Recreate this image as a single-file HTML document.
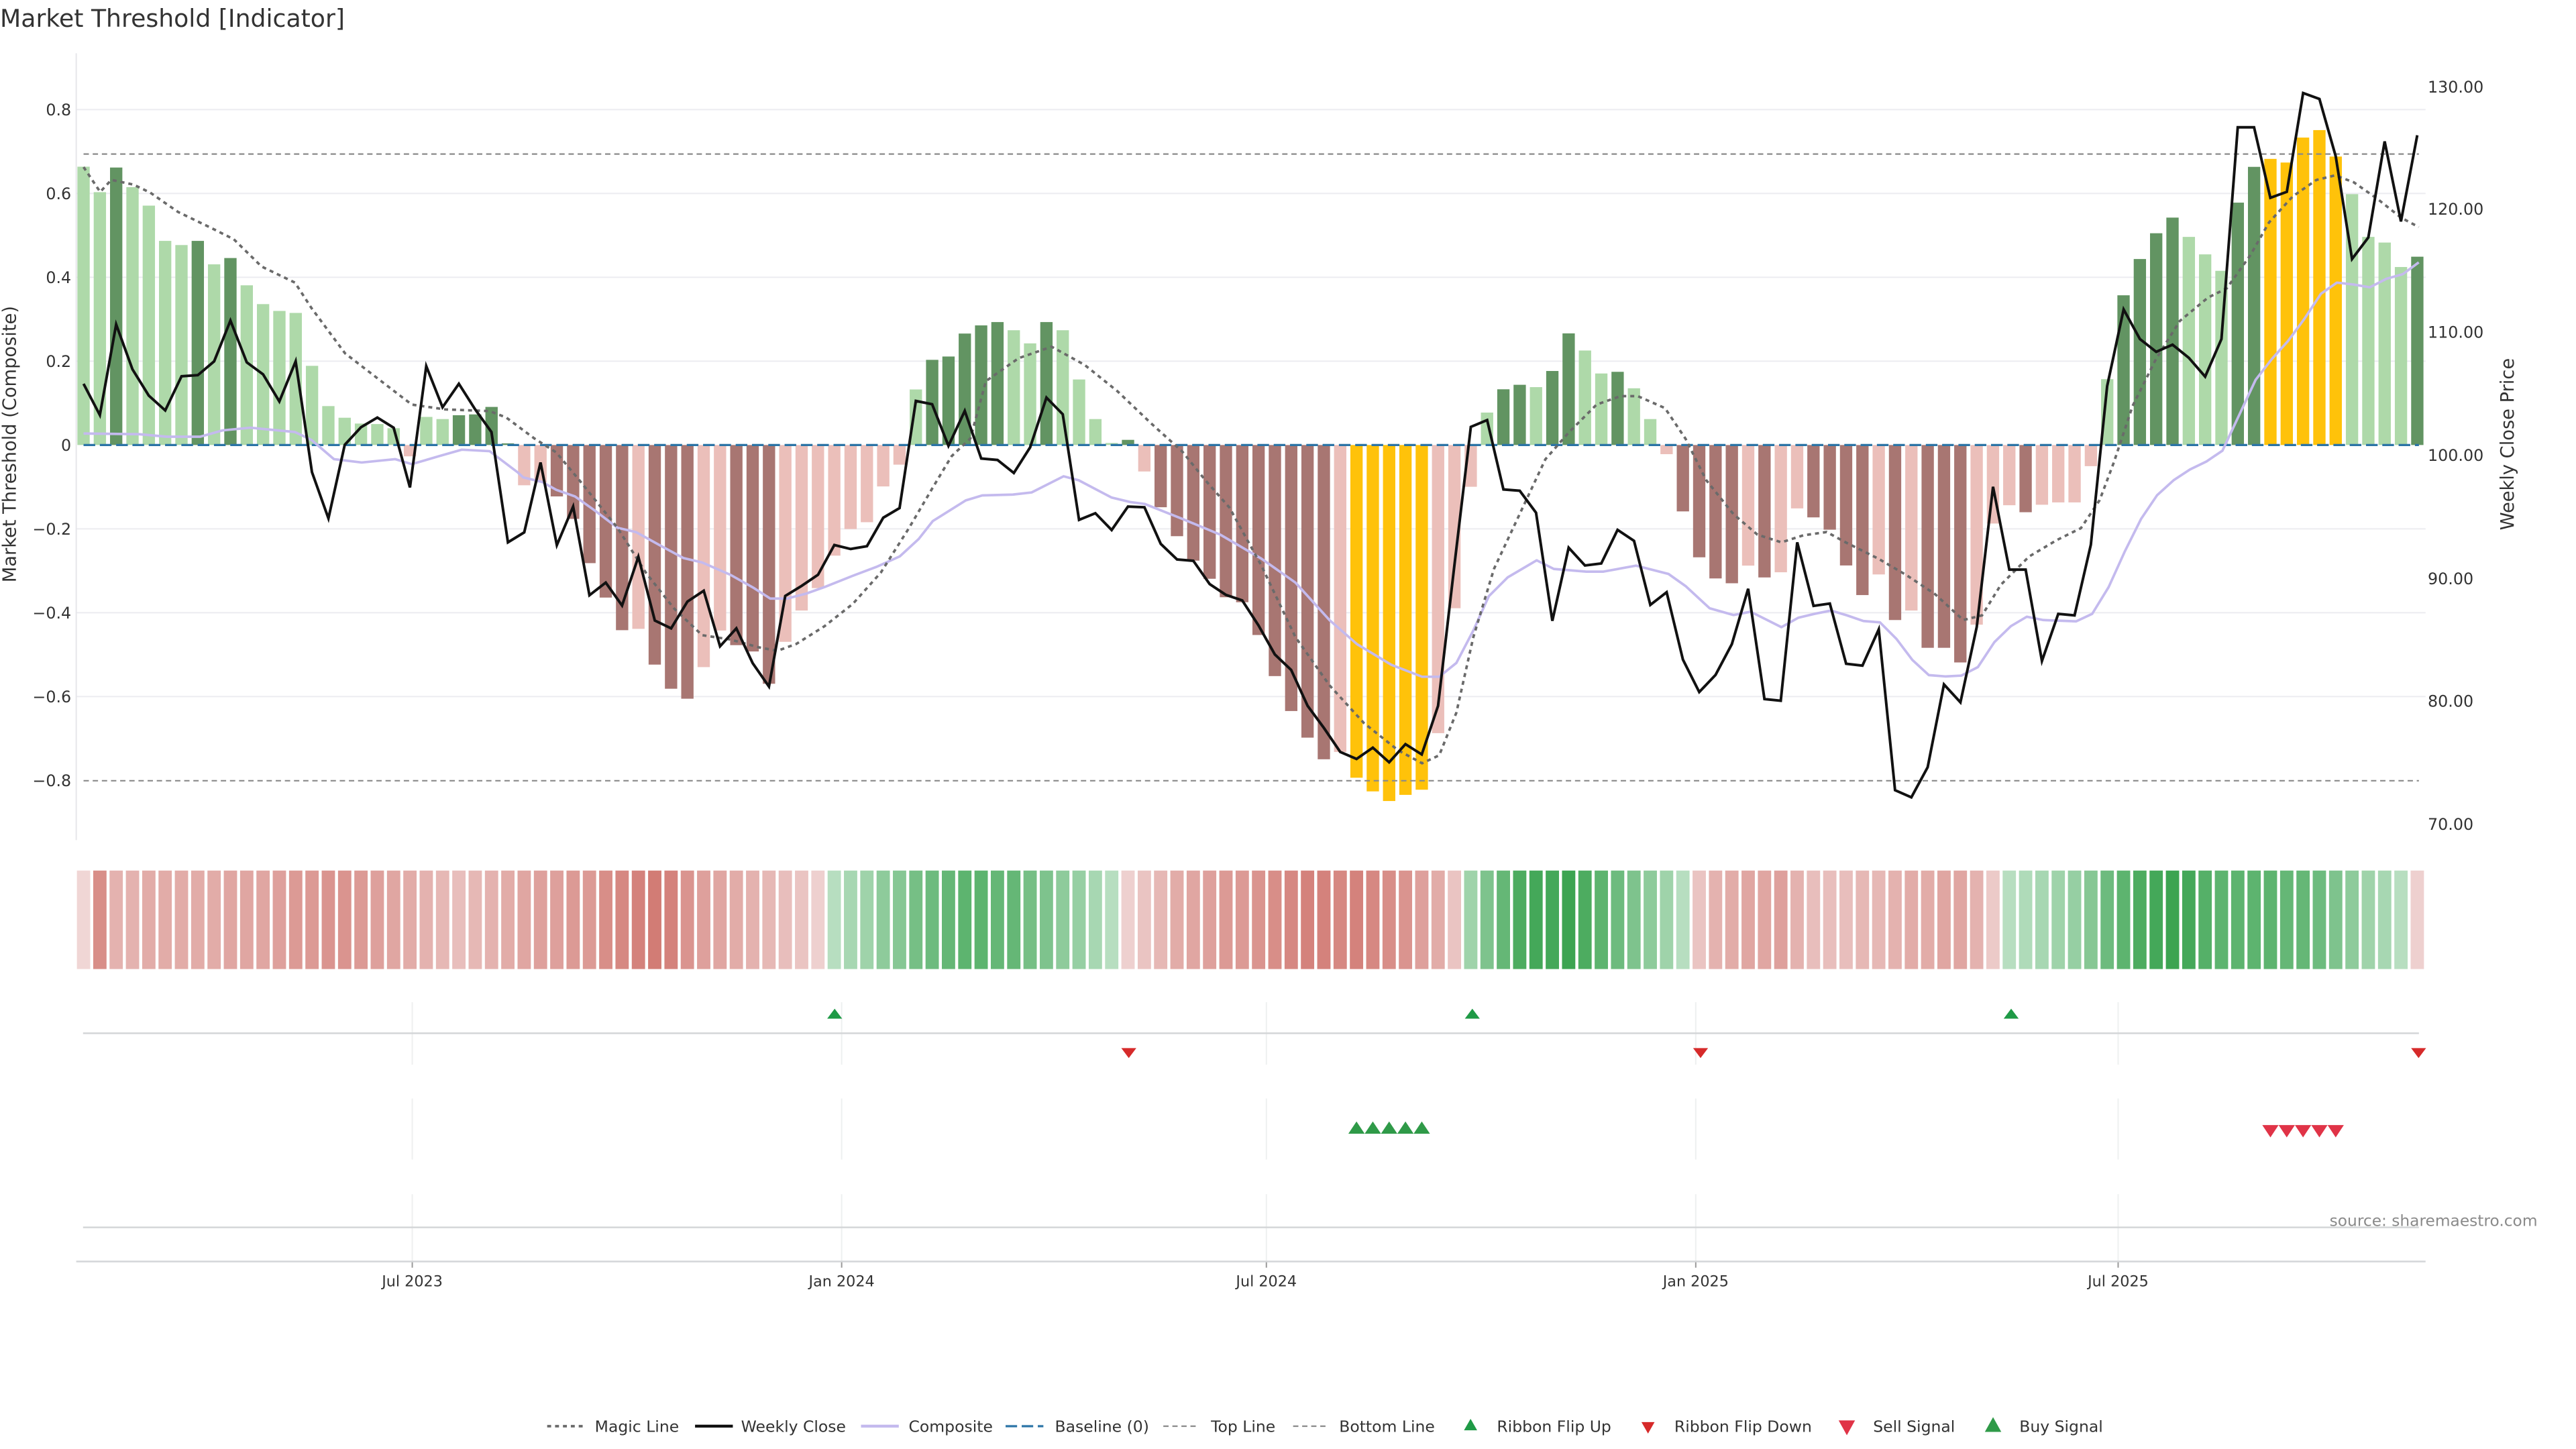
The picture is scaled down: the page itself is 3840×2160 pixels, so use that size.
<!DOCTYPE html>
<html><head><meta charset="utf-8"><style>
html,body{margin:0;padding:0;background:#fff;}
svg{display:block;font-family:"DejaVu Sans","Liberation Sans",sans-serif;}
</style></head><body>
<svg id="s" xmlns="http://www.w3.org/2000/svg" width="3840" height="2160" viewBox="0 0 1548.4 871">
<rect x="0" y="0" width="1548.4" height="871" fill="#fff"/>
<text x="0" y="16.2" font-size="14.6" fill="#333">Market Threshold [Indicator]</text>
<g id="grid"></g>
<g id="bars"></g>
<g id="lines"></g>
<g id="lower"></g>
<text x="1400.3" y="737" font-size="9.4" fill="#8a8a8a">source: sharemaestro.com</text>
<text transform="translate(9.5,267) rotate(-90)" text-anchor="middle" font-size="11" fill="#333">Market Threshold (Composite)</text>
<text transform="translate(1511,267) rotate(-90)" text-anchor="middle" font-size="11" fill="#333">Weekly Close Price</text>
<g id="legend" font-size="9.6" fill="#333"></g>
</svg>
<script>
const NS="http://www.w3.org/2000/svg";
function el(parent,tag,attrs,text){const e=document.createElementNS(NS,tag);for(const k in attrs)e.setAttribute(k,attrs[k]);if(text!==undefined)e.textContent=text;document.getElementById(parent).appendChild(e);return e;}
const X=i=>50.2+i*9.81;
const Z=267.5, U=252;
for(const v of [0.8,0.6,0.4,0.2,-0.2,-0.4,-0.6]){const y=Z-v*U;el('grid','line',{x1:46,x2:1458,y1:y,y2:y,stroke:'#ececf0','stroke-width':0.8});}
el('grid','line',{x1:45.8,x2:45.8,y1:32,y2:505,stroke:'#e6e6ea','stroke-width':0.8});
for(const v of [0.8,0.6,0.4,0.2,0,-0.2,-0.4,-0.6,-0.8]){const y=Z-v*U;el('grid','text',{x:42.8,y:y+3.4,'text-anchor':'end','font-size':9.6,fill:'#333'},v===0?'0':v.toFixed(1).replace('-','\u2212'));}
const rl=[[130,52.2],[120,125.7],[110,199.6],[100,273.7],[90,347.8],[80,421.4],[70,495.4]];
for(const [p,y] of rl)el('grid','text',{x:1459.3,y:y+3.4,'font-size':9.6,fill:'#333'},p.toFixed(2));
const B="g100.2 g115.5 G100.7 g112.5 g123.6 g144.8 g147.3 G144.8 g158.9 G155.1 g171.5 g182.8 g186.9 g188.1 g219.9 g244.1 g251.1 g254.6 g254.9 g257.4 r274.3 g250.6 g251.9 G249.6 G249.1 G244.6 G266.5 r291.7 r290 R298.4 R311.9 R338.5 R359.2 R378.8 r378 R399.5 R414 R420 r401 r379 R387.8 R391.6 R411 r385.8 r367 r353.5 r334 r318 r313.9 r292.4 r279.3 g234.1 G216.3 G214.3 G200.5 G195.6 G193.6 g198.5 g206.4 G193.6 g198.5 g228.1 g251.9 g266.3 G264.4 r283.4 R304.9 R322.3 R337 R347.9 R359 R362 R381.7 R406.4 R427.4 R443.4 R456.4 r452 Y467.5 Y475.7 Y481.5 Y477.8 Y474.7 r440.7 r365.6 r292.6 g248 G234 G231.3 g232.7 G223 G200.4 g210.7 g224.5 G223.5 g233.4 g251.9 r273 R307.4 R335 R347.7 R350.6 r340 R347.1 r344 r305.6 R311 R318.4 R339.9 R357.7 r345.3 R372.7 r367 R389.4 R389.4 R398.2 r375.5 r314.7 r303.7 R307.9 r303.4 r302 r302 r280.2 g227.9 G177.5 G155.7 G140.2 G130.8 g142.4 g152.9 g162.8 G121.8 G100.3 Y95.5 Y97.7 Y82.7 Y78.2 Y94.1 g116.7 g142.4 g145.8 g160.5 G154.3".split(' ');
const C={g:'#aed9a9',G:'#629462',r:'#ebbfba',R:'#a87672',Y:'#ffc20a'};
B.forEach((s,i)=>{const c=C[s[0]],y=parseFloat(s.slice(1));const t=Math.min(y,Z),h=Math.abs(Z-y);el('bars','rect',{x:X(i)-3.7,y:t,width:7.4,height:Math.max(h,0.6),fill:c});});
el('lines','line',{x1:50.2,x2:1454,y1:92.6,y2:92.6,stroke:'#8a8a8a','stroke-width':0.9,'stroke-dasharray':'3.2 2.3'});
el('lines','line',{x1:50.2,x2:1454,y1:469.3,y2:469.3,stroke:'#8a8a8a','stroke-width':0.9,'stroke-dasharray':'3.2 2.3'});
el('lines','line',{x1:50.2,x2:1454,y1:Z,y2:Z,stroke:'#2b74a6','stroke-width':1.3,'stroke-dasharray':'7 2.8'});
const comp=[[50.2,260.6],[83.6,261],[100.3,262.5],[120.4,262.5],[133.8,258.7],[150.5,257.1],[177.3,259.7],[187.3,264.5],[200.7,276],[217.4,278],[237.5,276],[247.5,279],[264.2,274.1],[277.6,270.3],[294.3,271.2],[311,283.8],[314.5,287],[325.8,289.7],[334.3,294.4],[345.6,298.4],[357,306.5],[371.1,317.2],[382.4,319.9],[399.4,329.3],[410.7,335.4],[422,338.1],[439,345.5],[453.2,353.5],[463,359.8],[473,359.8],[484.3,356.9],[495.6,352.9],[512.6,346.1],[526.7,340.8],[540.9,334.4],[552.2,324],[560.7,313.2],[580.5,300.8],[590.4,297.8],[608.8,297.3],[620.1,296],[639.3,286.3],[648.4,288.7],[668.2,299.1],[679.5,301.8],[688,302.9],[710.7,311.9],[733.3,321.3],[758.2,335.8],[778.7,350.2],[799.2,372.8],[815.7,387.2],[836.3,399.6],[854.8,406.8],[865.1,406.8],[875.4,398.5],[885.6,379],[894.9,358.4],[906.2,347.1],[923.7,336.8],[934,342],[953.5,343.6],[963.8,343.6],[983.4,340],[1002.9,345],[1013.2,352.3],[1027.6,365.6],[1042,369.7],[1052.3,367.7],[1070.8,377],[1081,371.3],[1090.7,369],[1100.6,367],[1110.2,369.9],[1120.1,373.3],[1130,374.1],[1139.9,384],[1149.5,396.7],[1159.4,405.8],[1169.3,406.6],[1179,406.1],[1188.9,401],[1198.8,386],[1208.7,376.4],[1218.3,370.7],[1228.2,372.7],[1248,373.5],[1257.6,369],[1267.5,352.9],[1277.1,331.7],[1287,311.9],[1296.6,297.7],[1306.5,288.7],[1316.4,282.2],[1326.3,277.4],[1335.9,270.9],[1345.9,249.6],[1355.8,228.4],[1365.7,215.7],[1375.3,205],[1385.2,191.6],[1395.1,176.6],[1404.7,169.9],[1414.6,171],[1424.5,172.7],[1434.4,167.6],[1444.3,164.8],[1453.9,157.7]];
el('lines','polyline',{points:comp.map(p=>p.join(',')).join(' '),fill:'none',stroke:'#c4baee','stroke-width':1.5,'stroke-linejoin':'round'});
const mag=[[50.2,100.4],[60.2,115.4],[66.9,108.1],[80.3,111],[90.3,115.8],[107,127.4],[127.1,137.1],[140.5,143.8],[157.2,160.2],[177.3,169.9],[187.3,185.3],[207.4,212.4],[227.4,227.8],[247.5,243.2],[267.6,246.1],[294.3,247.1],[304.3,251],[321.1,263.5],[334.4,272],[348.5,289],[371.1,317.2],[388.1,344.1],[405,365.6],[422,381.8],[439,384.4],[456,389.1],[467.3,391.2],[478.6,387.1],[495.6,376.4],[512.6,363],[529.5,344.1],[546.5,317.2],[560.7,293],[572,274.2],[583.3,263.5],[592.6,229.1],[612.3,215.3],[632.1,208.4],[651.9,219.3],[671.6,235.1],[691.4,254],[710.7,271.5],[724.8,289],[739,305.1],[758.2,340],[778.7,383],[799.2,412],[819.8,434.6],[840.4,451],[854.8,458.8],[865.1,454],[875.4,428.4],[885.6,383],[898,342],[914.4,307],[928.9,276.1],[943.2,259.7],[959.7,243.2],[974.1,238.1],[984.4,238.1],[1000.8,245.3],[1013.2,263.8],[1025.5,288.5],[1042,309.1],[1056.4,321.4],[1070.8,326],[1083.9,321.8],[1098,319.8],[1109.4,326],[1129.2,335.9],[1146.1,345.8],[1163.1,357.1],[1180.1,372.7],[1191.4,369.9],[1202.7,351.5],[1219.7,334.5],[1236.4,324.6],[1250.8,317.5],[1262.1,300.6],[1270.6,278],[1281.9,244],[1296,215.7],[1310.2,193],[1327.2,178.9],[1338.5,173.3],[1352.6,153.5],[1363.9,133.7],[1378.1,118.1],[1392.3,108.2],[1403.6,105.4],[1414.9,109.6],[1429,119.5],[1443.2,130.8],[1453.9,136.5]];
el('lines','polyline',{points:mag.map(p=>p.join(',')).join(' '),fill:'none',stroke:'#6a6a6a','stroke-width':1.5,'stroke-dasharray':'2.4 2.4'});
const wc=[230.7,249.5,195.0,222.0,237.8,246.7,226.2,225.5,217.2,192.7,217.8,225.0,241.3,217.2,283.8,311.6,267.4,256.8,251.0,257.1,293.0,220.1,244.8,230.7,246.1,259.7,326,320,278,327.7,304.5,357.8,350.2,364,334.7,373,377.7,361.6,355.1,388.5,377.7,398.6,412.7,358.2,352.2,345.5,327.6,330,328.3,311.2,305.4,241,243,268,247,275.6,276.5,284.3,268.9,239,249,312.5,308.5,318.6,304.5,304.9,326.9,336.3,337.1,351.1,357.6,360.9,376,393.4,402.7,424.3,437.6,452,456.2,449.4,458.2,447.3,453.5,424.3,340,256.6,252.5,294.2,295,308.2,373.2,329.2,339.9,338.7,318.5,325.1,363.6,356,396.5,416,405.7,387.2,353.9,420.2,421.2,326,364.2,362.8,399,400.1,378.3,475,479.3,461.2,411.4,422.2,376.9,292.6,342.4,342.4,397.3,369,369.9,327.4,232.1,186,203.8,211.5,207.2,215.1,226.4,203.8,76.5,76.5,118.9,115.3,55.9,59.5,94,155.7,142.7,85,133.1,81.3];
el('lines','polyline',{points:wc.map((y,i)=>X(i).toFixed(1)+','+y).join(' '),fill:'none',stroke:'#111','stroke-width':1.6,'stroke-linejoin':'miter'});
const hs=[];
const red0=[0.1,0.7,0.4,0.4,0.45,0.45,0.45,0.45,0.45,0.5,0.5,0.5,0.55,0.6,0.6,0.65,0.65,0.6,0.55,0.5,0.45,0.4,0.35,0.3,0.35,0.4,0.45,0.5,0.55,0.55,0.6,0.6,0.7,0.75,0.8,0.85,0.8,0.65,0.55,0.5,0.45,0.4,0.35,0.3,0.25,0.15];
red0.forEach(t=>hs.push(-t));
[0.2,0.3,0.35,0.45,0.5,0.6,0.65,0.7,0.75,0.75,0.7,0.7,0.6,0.55,0.45,0.4,0.3,0.2].forEach(t=>hs.push(t));
[0.15,0.25,0.35,0.45,0.5,0.55,0.6,0.6,0.65,0.7,0.75,0.8,0.8,0.75,0.8,0.75,0.7,0.65,0.55,0.45,0.25].forEach(t=>hs.push(-t));
[0.35,0.55,0.7,0.85,0.9,0.9,0.95,0.85,0.75,0.65,0.55,0.45,0.35,0.2].forEach(t=>hs.push(t));
[0.25,0.4,0.45,0.5,0.5,0.55,0.4,0.3,0.3,0.3,0.35,0.35,0.4,0.45,0.45,0.5,0.5,0.4,0.2].forEach(t=>hs.push(-t));
[0.2,0.25,0.3,0.35,0.4,0.5,0.65,0.75,0.85,0.9,0.95,0.9,0.8,0.75,0.75,0.75,0.75,0.7,0.7,0.65,0.55,0.45,0.35,0.3,0.2].forEach(t=>hs.push(t));
hs.push(-0.15);
function mix(a,b,t){return 'rgb('+a.map((v,k)=>Math.round(v+(b[k]-v)*t)).join(',')+')';}
hs.forEach((v,i)=>{const t=Math.abs(v);const c=v<0?mix([244,226,226],[204,106,98],t):mix([216,238,222],[52,160,74],t);el('lower','rect',{x:X(i)-4,y:523.3,width:8,height:59.2,fill:c});});
const ticks=[[247.8,'Jul 2023'],[505.9,'Jan 2024'],[761.2,'Jul 2024'],[1019.3,'Jan 2025'],[1273.2,'Jul 2025']];
for(const [x,l] of ticks){
 for(const [a,b] of [[602.4,640],[660.3,697],[717.8,758.3]])el('lower','line',{x1:x,x2:x,y1:a,y2:b,stroke:'#eef0f0','stroke-width':0.8});
 el('lower','line',{x1:x,x2:x,y1:758.3,y2:762,stroke:'#999','stroke-width':0.8});
 el('lower','text',{x:x,y:773.3,'text-anchor':'middle','font-size':9,fill:'#333'},l);
}
el('lower','line',{x1:49.9,x2:1454,y1:621.1,y2:621.1,stroke:'#d4d6d8','stroke-width':1});
el('lower','line',{x1:49.9,x2:1454,y1:737.8,y2:737.8,stroke:'#d4d6d8','stroke-width':1});
el('lower','line',{x1:45.8,x2:1458,y1:758.3,y2:758.3,stroke:'#d4d6d8','stroke-width':1});
function up(g,x,y,w,h,c){el(g,'polygon',{points:`${x-w/2},${y+h/2} ${x+w/2},${y+h/2} ${x},${y-h/2}`,fill:c});}
function dn(g,x,y,w,h,c){el(g,'polygon',{points:`${x-w/2},${y-h/2} ${x+w/2},${y-h/2} ${x},${y+h/2}`,fill:c});}
for(const x of [501.7,885,1208.9])up('lower',x,609.3,9,6,'#1f9a46');
for(const x of [678.5,1022.2,1453.8])dn('lower',x,633,9,6,'#d62a2a');
for(let i=78;i<=82;i++)up('lower',X(i),677.8,9.8,7.4,'#2f9a48');
for(let i=134;i<=138;i++)dn('lower',X(i),680,9.8,7.4,'#e03347');
const L=document.getElementById('legend');L.setAttribute('transform','scale(0.98765)');
const ly=868;
function lline(x1,x2,attrs){el('legend','line',Object.assign({x1:x1,x2:x2,y1:ly,y2:ly},attrs));}
function lt(x,t){el('legend','text',{x:x,y:ly+3.4},t);}
lline(333,355,{stroke:'#6a6a6a','stroke-width':1.5,'stroke-dasharray':'2.4 2.4'});lt(362,'Magic Line');
lline(423,446,{stroke:'#111','stroke-width':1.8});lt(451,'Weekly Close');
lline(524,547,{stroke:'#c4baee','stroke-width':1.8});lt(553,'Composite');
lline(612,635,{stroke:'#2b74a6','stroke-width':1.3,'stroke-dasharray':'7 2.8'});lt(642,'Baseline (0)');
lline(708,730,{stroke:'#8a8a8a','stroke-width':0.9,'stroke-dasharray':'3.2 2.3'});lt(737,'Top Line');
lline(787,809,{stroke:'#8a8a8a','stroke-width':0.9,'stroke-dasharray':'3.2 2.3'});lt(815,'Bottom Line');
up('legend',895,ly-1,8,7,'#1f9a46');lt(911,'Ribbon Flip Up');
dn('legend',1003,ly+1,8,7,'#d62a2a');lt(1019,'Ribbon Flip Down');
dn('legend',1124,ly+1,10,9,'#e03347');lt(1140,'Sell Signal');
up('legend',1213,ly-1,10,9,'#2f9a48');lt(1229,'Buy Signal');
</script>
</body></html>
